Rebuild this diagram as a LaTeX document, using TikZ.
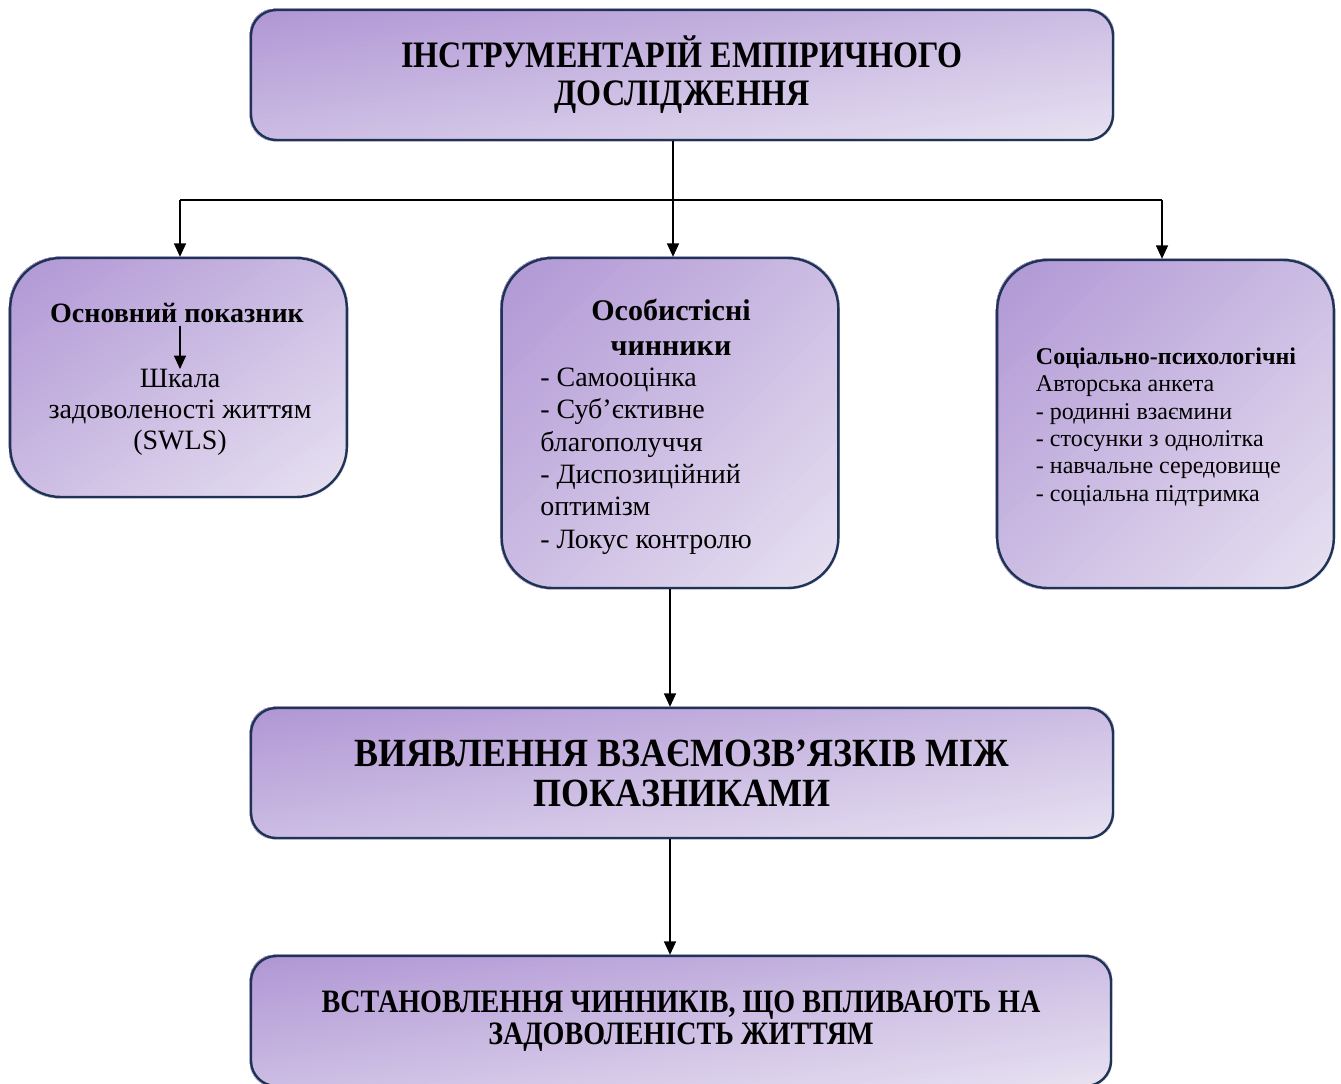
\documentclass[tikz,border=0pt]{standalone}
\usepackage{fontspec}
\setmainfont{Liberation Serif}
\newfontfamily\condf[FakeStretch=0.86]{Liberation Serif}
\newfontfamily\condg[FakeStretch=0.9]{Liberation Serif}
\usetikzlibrary{arrows.meta,calc}
\pgfdeclarelayer{bg}
\pgfsetlayers{bg,main}
\definecolor{gA}{RGB}{176,150,212}
\definecolor{gB}{RGB}{232,227,242}
\definecolor{bord}{RGB}{30,52,84}
\tikzset{
  box/.style={draw=bord, line width=1.8pt, align=center, inner sep=0pt},
  wide/.style={box, minimum width=646.5pt, minimum height=97.5pt, rounded corners=19pt},
  tall/.style={box, minimum width=252.5pt, rounded corners=38pt},
  conn/.style={line width=0.8pt, black},
  arr/.style={conn, -{Triangle[width=9pt,length=10pt]}},
}
% diagonal gradient (top-left dark -> bottom-right light), scaled with the box
\newcommand\gradfill[2]{%
  \begin{pgfonlayer}{bg}
  \begin{scope}
    \clip[rounded corners=#2] (#1.north west) rectangle (#1.south east);
    \begin{scope}[x={($(#1.north east)-(#1.north west)$)}, y={($(#1.south west)-(#1.north west)$)}, shift={(#1.north west)}]
      \foreach \i in {60,59,...,1}{%
        \pgfmathsetmacro\pp{(\i-0.5)/60*100}%
        \fill[gB!\pp!gA] (0,0) -- (2*\i/60+0.01,0) -- (0,2*\i/60+0.01) -- cycle;
      }
    \end{scope}
  \end{scope}
  \end{pgfonlayer}}
\begin{document}
\begin{tikzpicture}[x=0.75pt,y=-0.75pt]
\useasboundingbox (0,0) rectangle (1341,1083);
\clip (0,0) rectangle (1341,1083);
\begin{pgfonlayer}{bg}
\fill[white] (0,0) rectangle (1341,1083);
\end{pgfonlayer}
% boxes
\node[wide, font=\condf\bfseries\fontsize{28}{28.5}\selectfont] (top) at (682,75) {ІНСТРУМЕНТАРІЙ ЕМПІРИЧНОГО\\ДОСЛІДЖЕННЯ};
\node[tall, minimum height=179.25pt] (left) at (178.5,377.5) {};
\node[tall, minimum height=247.5pt] (mid) at (670,423) {};
\node[tall, minimum height=246pt] (right) at (1165.5,424) {};
\node[wide, font=\condg\bfseries\fontsize{30}{30}\selectfont] (res) at (682,773) {ВИЯВЛЕННЯ ВЗАЄМОЗВ’ЯЗКІВ МІЖ\\ПОКАЗНИКАМИ};
\node[wide, minimum width=645pt, font=\condf\bfseries\fontsize{24.5}{24}\selectfont] (fin) at (681,1021) {ВСТАНОВЛЕННЯ ЧИННИКІВ, ЩО ВПЛИВАЮТЬ НА\\ЗАДОВОЛЕНІСТЬ ЖИТТЯМ};
\gradfill{top}{19pt}
\gradfill{left}{38pt}
\gradfill{mid}{38pt}
\gradfill{right}{38pt}
\gradfill{res}{19pt}
\gradfill{fin}{19pt}
% left box text
\node[font=\bfseries\fontsize{21}{23}\selectfont, inner sep=2pt] (lh) at (177,313) {Основний показник};
\node[font=\fontsize{21}{23.25}\selectfont, align=center, inner sep=0pt, anchor=north] (lt) at (180,369) {Шкала\\задоволеності життям\\(SWLS)};
\draw[arr] (lh.south -| lt.north) -- (lt.north);
% middle box text
\node[font=\bfseries\fontsize{22.5}{26}\selectfont, align=center] (mh) at (671,327) {Особистісні\\чинники};
\node[font=\fontsize{21}{24.3}\selectfont, align=left, inner sep=0pt, anchor=west] (ml) at (540,461)
  {- Самооцінка\\- Суб’єктивне\\благополуччя\\- Диспозиційний\\оптимізм\\- Локус контролю};
% right box text
\node[font=\fontsize{18}{20.6}\selectfont, align=left, inner sep=0pt] (rt) at (1166,427)
  {\textbf{Соціально-психологічні}\\Авторська анкета\\- родинні взаємини\\- стосунки з однолітка\\- навчальне середовище\\- соціальна підтримка};
% connectors
\coordinate (j) at (673,200);
\coordinate (jl) at (180,200);
\coordinate (jr) at (1162,200);
\draw[conn] (j |- top.south) -- (j);
\draw[conn] (jl) -- (jr);
\draw[arr] (jl) -- (jl |- left.north);
\draw[arr] (j) -- (j |- mid.north);
\draw[arr] (jr) -- (jr |- right.north);
\draw[arr] (mid.south) -- (mid.south |- res.north);
\draw[arr] (mid.south |- res.south) -- (mid.south |- fin.north);
\end{tikzpicture}
\end{document}
